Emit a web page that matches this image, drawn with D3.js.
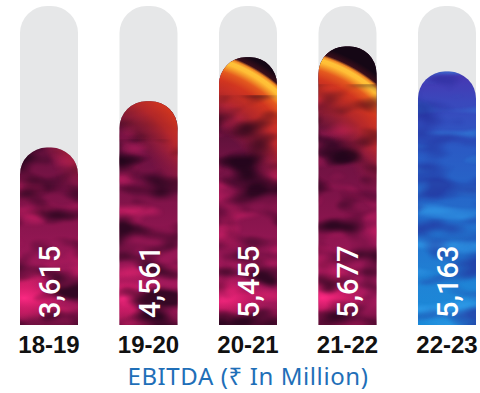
<!DOCTYPE html>
<html>
<head>
<meta charset="utf-8">
<script src="https://cdn.jsdelivr.net/npm/d3@7/dist/d3.min.js"></script>
<style>
  html, body { margin: 0; padding: 0; background: #ffffff; }
  svg { display: block; }
</style>
</head>
<body>
<svg id="chart" width="480" height="393"></svg>
<script>
// EBITDA by financial year (₹ in million)
const years = ["18-19", "19-20", "20-21", "21-22", "22-23"];
const ebitda = [3615, 4561, 5455, 5677, 5163];
const valueLabels = ["3,615", "4,561", "5,455", "5,677", "5,163"];
const palettes = ["fire", "fire", "fire", "fire", "ocean"];
const axisMax = 6500;
const title = "EBITDA (₹ In Million)";

const baseY = 325, topY = 6;
const flameCY = 201, flameR = 160;

const svg = d3.select("#chart");
const defs = svg.append("defs");

const x = d3.scaleBand().domain(years).range([20, 476]).paddingInner(0.417).paddingOuter(0);
const y = d3.scaleLinear().domain([0, axisMax]).range([baseY, topY]);
const bw = x.bandwidth();
const r = 27;

// capsule with rounded top and square bottom
function capsule(x0, y0, w, yBottom) {
  const rr = Math.min(r, w / 2, (yBottom - y0));
  const p = d3.path();
  p.moveTo(x0, yBottom);
  p.lineTo(x0, y0 + rr);
  p.arcTo(x0, y0, x0 + rr, y0, rr);
  p.lineTo(x0 + w - rr, y0);
  p.arcTo(x0 + w, y0, x0 + w, y0 + rr, rr);
  p.lineTo(x0 + w, yBottom);
  p.closePath();
  return p.toString();
}

// --- paint definitions ---
function linear(id, stops, y1, y2) {
  const g = defs.append("linearGradient").attr("id", id)
    .attr("gradientUnits", "userSpaceOnUse")
    .attr("x1", 0).attr("y1", y1 ?? topY).attr("x2", 0).attr("y2", y2 ?? baseY);
  stops.forEach(s => g.append("stop").attr("offset", s[0]).attr("stop-color", s[1]).attr("stop-opacity", s[2] ?? 1));
}
linear("fireBase", [
  [0, "#2a0820"], [0.3, "#48102e"], [0.45, "#6a1240"], [0.65, "#86144c"],
  [0.82, "#9c1858"], [0.92, "#a81a5e"], [1, "#701040"]
]);
linear("oceanBase", [
  [0, "#5230a8"], [0.22, "#4638b2"], [0.3, "#3a48bc"], [0.45, "#2a5ac4"],
  [0.7, "#2370cc"], [0.88, "#1f84d6"], [1, "#1a8ad8"]
]);
// fade used to keep the flame in the upper part of the bars
linear("flameFade", [[0, "#ffffff"], [1, "#000000"]], 150, 192);
defs.append("mask").attr("id", "flameMask")
  .attr("maskUnits", "userSpaceOnUse").attr("x", 0).attr("y", 0).attr("width", 480).attr("height", 393)
  .append("rect").attr("x", 0).attr("y", 0).attr("width", 480).attr("height", 393)
  .attr("fill", "url(#flameFade)");

function noiseFilter(id, freq, seed, color, gain, bias, blur) {
  const f = defs.append("filter").attr("id", id)
    .attr("x", 0).attr("y", 0).attr("width", 1).attr("height", 1)
    .attr("color-interpolation-filters", "sRGB");
  f.append("feTurbulence").attr("type", "fractalNoise")
    .attr("baseFrequency", freq).attr("numOctaves", 2).attr("seed", seed);
  f.append("feColorMatrix").attr("type", "matrix").attr("values",
    `0 0 0 0 ${color[0]}  0 0 0 0 ${color[1]}  0 0 0 0 ${color[2]}  ${gain} 0 0 0 ${bias}`);
  if (blur) f.append("feGaussianBlur").attr("stdDeviation", blur);
}
noiseFilter("fireDark", "0.022 0.045", 7, [0.12, 0.02, 0.1], 3.6, -1.65, 1.2);
noiseFilter("fireLight", "0.02 0.05", 19, [0.9, 0.14, 0.44], 3.0, -1.6, 1.5);
noiseFilter("oceanDark", "0.02 0.045", 4, [0.14, 0.18, 0.6], 4.0, -1.9, 1.2);
noiseFilter("oceanLight", "0.012 0.06", 11, [0.2, 0.62, 0.92], 4.0, -2.0, 1.2);

// grey track behind each bar
svg.append("g").selectAll("path").data(years).join("path")
  .attr("d", d => capsule(x(d), y(axisMax), bw, baseY))
  .attr("fill", "#e6e7e8");

const bars = svg.append("g").selectAll("g").data(years).join("g");

bars.each(function(d, i) {
  const g = d3.select(this);
  const x0 = x(d), y0 = y(ebitda[i]);
  const clipId = "clip" + i;
  defs.append("clipPath").attr("id", clipId)
    .append("path").attr("d", capsule(x0, y0, bw, baseY));
  const inner = g.append("g").attr("clip-path", `url(#${clipId})`);
  const box = sel => sel.attr("x", x0 - 2).attr("y", y0 - 2).attr("width", bw + 4).attr("height", baseY - y0 + 4);

  if (palettes[i] === "fire") {
    inner.append("rect").call(box).attr("fill", "url(#fireBase)");
    inner.append("rect").call(box).attr("filter", "url(#fireLight)").attr("opacity", 0.75);
    // pink glow low on the left
    const glowId = "glow" + i;
    const glow = defs.append("radialGradient").attr("id", glowId)
      .attr("gradientUnits", "userSpaceOnUse")
      .attr("cx", x0 + 4).attr("cy", 298).attr("r", 34)
      .attr("gradientTransform", `translate(${x0 + 4},298) scale(1.4,0.7) translate(${-(x0 + 4)},-298)`);
    glow.append("stop").attr("offset", 0).attr("stop-color", "#ff2a84").attr("stop-opacity", 0.95);
    glow.append("stop").attr("offset", 0.5).attr("stop-color", "#e81e70").attr("stop-opacity", 0.5);
    glow.append("stop").attr("offset", 1).attr("stop-color", "#c0185c").attr("stop-opacity", 0);
    inner.append("rect").call(box).attr("fill", `url(#${glowId})`);
    inner.append("rect").call(box).attr("filter", "url(#fireDark)").attr("opacity", 0.85);

    // flame arc sweeping across the upper part
    const fireId = "flame" + i;
    const fl = defs.append("radialGradient").attr("id", fireId)
      .attr("gradientUnits", "userSpaceOnUse")
      .attr("cx", x0 - 40).attr("cy", flameCY).attr("r", flameR);
    [[0, "#a8184a", 0], [0.5, "#b82238", 0], [0.6, "#c02838", 0.45],
     [0.7, "#cc2e28", 0.8], [0.8, "#d8381f", 0.95], [0.855, "#e55a1f", 1],
     [0.885, "#f59a2a", 1], [0.905, "#ffbe36", 1], [0.925, "#ffc238", 1],
     [0.942, "#ee8424", 1], [0.957, "#3a0e1a", 1], [1, "#150715", 1]]
      .forEach(s => fl.append("stop").attr("offset", s[0]).attr("stop-color", s[1]).attr("stop-opacity", s[2]));
    const flame = inner.append("g").attr("mask", "url(#flameMask)");
    flame.append("rect").call(box).attr("fill", `url(#${fireId})`);
    // dark patches drifting through the red glow
    flame.append("rect")
      .attr("x", x0 - 2).attr("y", y0 + 38).attr("width", bw + 4).attr("height", Math.max(0, baseY - y0 - 38))
      .attr("filter", "url(#fireDark)").attr("opacity", 0.6);
  } else {
    inner.append("rect").call(box).attr("fill", "url(#oceanBase)");
    inner.append("rect").call(box).attr("filter", "url(#oceanLight)").attr("opacity", 0.7);
    inner.append("rect").call(box).attr("filter", "url(#oceanDark)").attr("opacity", 0.7);
  }
});

// rotated value labels inside the bars
svg.append("g").selectAll("text").data(years).join("text")
  .attr("transform", (d, i) => `translate(${x(d) + bw / 2 + 11},318) rotate(-90)`)
  .attr("text-anchor", "start")
  .attr("fill", "#ffffff")
  .style("font-family", "Roboto, 'Liberation Sans', sans-serif")
  .style("font-weight", 500)
  .style("font-size", "29px")
  .text((d, i) => valueLabels[i]);

// year labels
svg.append("g").selectAll("text").data(years).join("text")
  .attr("x", d => x(d) + bw / 2)
  .attr("y", 353)
  .attr("text-anchor", "middle")
  .attr("fill", "#111111")
  .style("font-family", "'Liberation Sans', Arial, sans-serif")
  .style("font-weight", 700)
  .style("font-size", "24px")
  .text(d => d);

// caption
svg.append("text")
  .attr("x", 248).attr("y", 385)
  .attr("text-anchor", "middle")
  .attr("fill", "#1f6fb8")
  .style("font-family", "'Noto Sans', 'DejaVu Sans', sans-serif")
  .style("font-size", "24px")
  .style("letter-spacing", "0.6px")
  .text(title);
</script>
</body>
</html>
